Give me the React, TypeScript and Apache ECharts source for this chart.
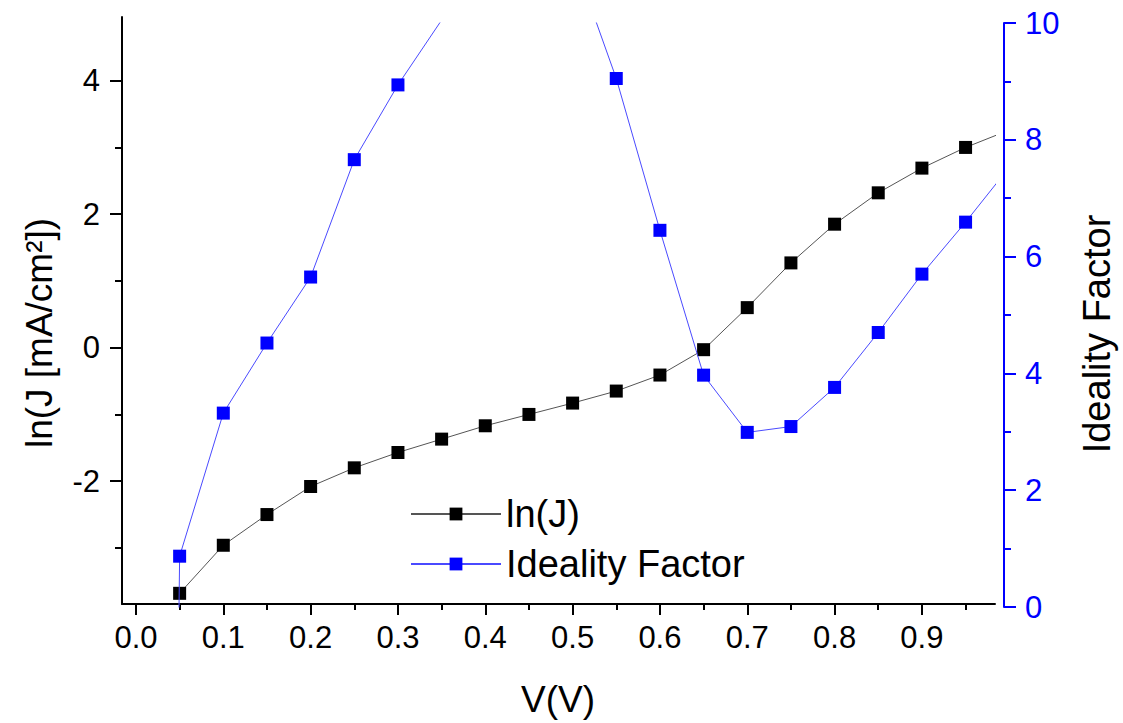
import React, { useEffect, useRef } from "react";
import * as echarts from "echarts";

// Bias voltage (V) for the current-density curve
const voltage = [0.05, 0.1, 0.15, 0.2, 0.25, 0.3, 0.35, 0.4, 0.45, 0.5, 0.55, 0.6, 0.65, 0.7, 0.75, 0.8, 0.85, 0.9, 0.95, 1.0];
// ln(J) with J in mA/cm²
const lnJ = [-3.68, -2.96, -2.5, -2.08, -1.8, -1.57, -1.37, -1.17, -1.0, -0.83, -0.65, -0.41, -0.03, 0.6, 1.27, 1.85, 2.32, 2.69, 3.0, 3.26];

// Bias voltage (V) for the ideality factor
const idealityVoltage = [0.0, 0.05, 0.1, 0.15, 0.2, 0.25, 0.3, 0.35, 0.4, 0.45, 0.5, 0.55, 0.6, 0.65, 0.7, 0.75, 0.8, 0.85, 0.9, 0.95, 1.0];
const ideality = [-60, 0.87, 3.32, 4.52, 5.65, 7.66, 8.94, 10.05, 11.2, 11.6, 11.15, 9.05, 6.45, 3.97, 2.99, 3.09, 3.76, 4.7, 5.7, 6.59, 7.53];

// Tick positions
const xMajorTicks = [0, 0.1, 0.2, 0.3, 0.4, 0.5, 0.6, 0.7, 0.8, 0.9];
const xMinorTicks = [0.05, 0.15, 0.25, 0.35, 0.45, 0.55, 0.65, 0.75, 0.85, 0.95];
const lnJMajorTicks = [-2, 0, 2, 4];
const lnJMinorTicks = [-3, -1, 1, 3];

// Axis ranges
const X_MIN = -0.016;
const X_MAX = 0.9837;
const LNJ_MIN = -3.84;
const LNJ_MAX = 4.954;
const IDEALITY_MIN = 0;
const IDEALITY_MAX = 10;

const FONT = "'Liberation Sans', Arial, Helvetica, sans-serif";
const BLUE = "#0000ff";

export default function App() {
  const ref = useRef<HTMLDivElement>(null);

  useEffect(() => {
    if (!ref.current) return;
    const chart = echarts.init(ref.current, undefined, { renderer: "svg" });

    const gridBox = { left: 122, right: 128 };

    const option: echarts.EChartsOption = {
      animation: false,
      backgroundColor: "#ffffff",
      textStyle: { fontFamily: FONT },
      grid: [
        { ...gridBox, top: 17, bottom: 119 },
        { ...gridBox, top: 23, bottom: 116 },
      ],
      legend: {
        orient: "vertical",
        left: 410,
        top: 495,
        padding: 0,
        itemWidth: 90,
        itemHeight: 16,
        itemGap: 12,
        textStyle: { fontSize: 38, color: "#000", fontFamily: FONT, lineHeight: 37 },
        data: ["ln(J)", "Ideality Factor"],
      },
      xAxis: [
        {
          type: "value",
          gridIndex: 0,
          position: "bottom",
          min: X_MIN,
          max: X_MAX,
          axisLine: { show: true, onZero: false, lineStyle: { color: "#000", width: 2 } },
          axisTick: {
            show: true,
            inside: false,
            length: 11,
            customValues: xMajorTicks,
            lineStyle: { color: "#000", width: 2 },
          },
          axisLabel: {
            show: true,
            customValues: xMajorTicks,
            formatter: (v: number) => v.toFixed(1),
            fontSize: 31,
            color: "#000",
            margin: 18,
            fontFamily: FONT,
          },
          splitLine: { show: false },
        },
        {
          type: "value",
          gridIndex: 0,
          position: "bottom",
          min: X_MIN,
          max: X_MAX,
          axisLine: { show: false, onZero: false },
          axisTick: {
            show: true,
            inside: false,
            length: 6,
            customValues: xMinorTicks,
            lineStyle: { color: "#000", width: 2 },
          },
          axisLabel: { show: false },
          splitLine: { show: false },
        },
        {
          type: "value",
          gridIndex: 1,
          position: "bottom",
          min: X_MIN,
          max: X_MAX,
          show: false,
          axisLine: { onZero: false },
          splitLine: { show: false },
        },
      ],
      yAxis: [
        {
          type: "value",
          gridIndex: 0,
          position: "left",
          min: LNJ_MIN,
          max: LNJ_MAX,
          axisLine: { show: true, onZero: false, lineStyle: { color: "#000", width: 2 } },
          axisTick: {
            show: true,
            inside: false,
            length: 12,
            customValues: lnJMajorTicks,
            lineStyle: { color: "#000", width: 2 },
          },
          axisLabel: {
            show: true,
            customValues: lnJMajorTicks,
            formatter: (v: number) => String(Math.round(v)),
            fontSize: 31,
            color: "#000",
            margin: 22,
            fontFamily: FONT,
          },
          splitLine: { show: false },
        },
        {
          type: "value",
          gridIndex: 0,
          position: "left",
          min: LNJ_MIN,
          max: LNJ_MAX,
          axisLine: { show: false, onZero: false },
          axisTick: {
            show: true,
            inside: false,
            length: 7,
            customValues: lnJMinorTicks,
            lineStyle: { color: "#000", width: 2 },
          },
          axisLabel: { show: false },
          splitLine: { show: false },
        },
        {
          type: "value",
          gridIndex: 1,
          position: "right",
          offset: 9,
          min: IDEALITY_MIN,
          max: IDEALITY_MAX,
          interval: 2,
          axisLine: { show: true, onZero: false, lineStyle: { color: BLUE, width: 2 } },
          axisTick: {
            show: true,
            inside: false,
            length: 12,
            lineStyle: { color: BLUE, width: 2 },
          },
          minorTick: {
            show: true,
            splitNumber: 2,
            length: 7,
            lineStyle: { color: BLUE, width: 2 },
          },
          axisLabel: {
            show: true,
            fontSize: 31,
            color: BLUE,
            margin: 21,
            fontFamily: FONT,
          },
          splitLine: { show: false },
          minorSplitLine: { show: false },
        },
      ],
      series: [
        {
          name: "ln(J)",
          type: "line",
          xAxisIndex: 0,
          yAxisIndex: 0,
          data: voltage.map((v, i) => [v, lnJ[i]]),
          symbol: "rect",
          symbolSize: 13,
          clip: true,
          itemStyle: { color: "#000000" },
          lineStyle: { color: "#555555", width: 1 },
          z: 2,
        },
        {
          name: "Ideality Factor",
          type: "line",
          xAxisIndex: 2,
          yAxisIndex: 2,
          data: idealityVoltage.map((v, i) => [v, ideality[i]]),
          symbol: "rect",
          symbolSize: 13,
          clip: true,
          itemStyle: { color: BLUE },
          lineStyle: { color: "#4a4aff", width: 1 },
          z: 3,
        },
      ],
      graphic: [
        {
          type: "text",
          x: 558,
          y: 699,
          style: {
            text: "V(V)",
            fontSize: 37,
            fontFamily: FONT,
            fill: "#000",
            align: "center",
            verticalAlign: "middle",
          },
        },
        {
          type: "text",
          x: 39,
          y: 333,
          rotation: Math.PI / 2,
          style: {
            text: "ln(J [mA/cm²])",
            fontSize: 37,
            fontFamily: FONT,
            fill: "#000",
            align: "center",
            verticalAlign: "middle",
          },
        },
        {
          type: "text",
          x: 1097,
          y: 334,
          rotation: Math.PI / 2,
          style: {
            text: "Ideality Factor",
            fontSize: 38,
            fontFamily: FONT,
            fill: "#000",
            align: "center",
            verticalAlign: "middle",
          },
        },
      ],
    };

    chart.setOption(option);
    return () => chart.dispose();
  }, []);

  return (
    <div
      ref={ref}
      style={{ position: "fixed", left: 0, top: 0, width: 1123, height: 723, background: "#fff" }}
    />
  );
}
